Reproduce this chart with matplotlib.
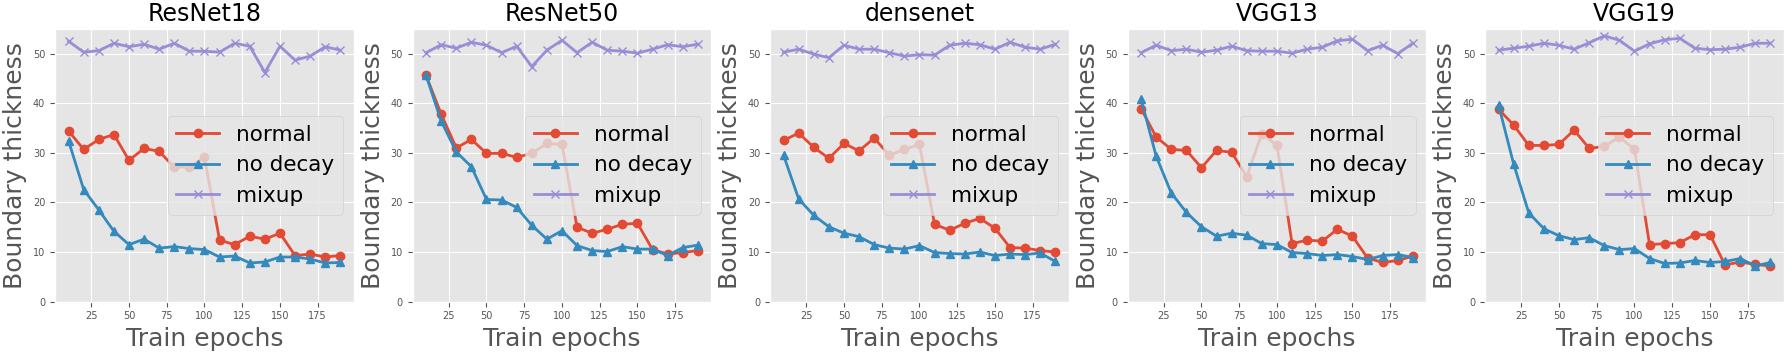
import numpy as np
import matplotlib
matplotlib.use('Agg')
import matplotlib.pyplot as plt

plt.style.use('ggplot')

epochs = np.arange(10, 200, 10)
titles = ['ResNet18', 'ResNet50', 'densenet', 'VGG13', 'VGG19']

# boundary thickness per model, one list per run type
normal = [
    [34.4, 30.7, 32.7, 33.7, 28.5, 30.9, 30.3, 27.1, 27.2, 29.1, 12.4, 11.5, 13.2, 12.6, 13.8, 9.3, 9.6, 9.0, 9.3],
    [45.6, 37.8, 31.0, 32.7, 29.9, 29.9, 29.1, 29.9, 31.9, 31.7, 15.0, 13.8, 14.6, 15.6, 15.8, 10.5, 9.6, 9.9, 10.3],
    [32.5, 34.0, 31.1, 28.9, 31.9, 30.4, 33.0, 29.5, 30.7, 31.7, 15.6, 14.4, 15.8, 16.8, 14.8, 10.9, 10.8, 10.3, 10.0],
    [38.9, 33.2, 30.7, 30.5, 27.0, 30.5, 30.1, 25.2, 33.9, 31.5, 11.7, 12.4, 12.2, 14.6, 13.2, 8.8, 7.9, 8.3, 9.2],
    [38.8, 35.6, 31.5, 31.5, 31.7, 34.6, 30.9, 31.3, 33.2, 30.7, 11.5, 11.7, 11.9, 13.5, 13.5, 7.4, 8.0, 7.5, 7.2],
]
no_decay = [
    [32.4, 22.6, 18.5, 14.2, 11.5, 12.6, 10.8, 11.1, 10.7, 10.5, 9.0, 9.2, 7.8, 8.0, 9.0, 9.0, 8.6, 7.8, 7.9],
    [45.6, 36.4, 30.2, 27.2, 20.6, 20.5, 19.0, 15.4, 12.6, 14.3, 11.3, 10.3, 10.1, 11.1, 10.6, 10.6, 9.3, 10.9, 11.4],
    [29.5, 20.7, 17.4, 15.1, 13.8, 13.1, 11.5, 10.8, 10.6, 11.3, 9.9, 9.7, 9.6, 10.0, 9.3, 9.6, 9.5, 9.8, 8.1],
    [40.8, 29.3, 21.9, 18.0, 15.1, 13.2, 13.8, 13.4, 11.7, 11.5, 9.9, 9.7, 9.3, 9.5, 9.1, 8.5, 9.3, 9.5, 8.9],
    [39.6, 27.7, 17.9, 14.7, 13.3, 12.5, 12.9, 11.3, 10.5, 10.7, 8.7, 7.7, 7.8, 8.3, 7.9, 8.1, 8.7, 7.2, 7.9],
]
mixup = [
    [52.5, 50.3, 50.6, 52.1, 51.4, 51.9, 50.9, 52.1, 50.5, 50.5, 50.3, 52.1, 51.5, 46.2, 51.5, 48.7, 49.5, 51.4, 50.7],
    [50.2, 51.8, 51.1, 52.3, 51.7, 50.2, 51.5, 47.4, 50.7, 52.7, 50.2, 52.3, 50.7, 50.5, 50.1, 50.9, 51.8, 51.4, 51.9],
    [50.3, 50.9, 49.9, 49.2, 51.7, 50.9, 50.9, 50.2, 49.5, 49.8, 49.7, 51.7, 52.1, 51.8, 50.9, 52.3, 51.3, 50.9, 51.9],
    [50.2, 51.7, 50.6, 50.9, 50.3, 50.7, 51.5, 50.6, 50.5, 50.5, 50.1, 50.9, 51.3, 52.6, 52.9, 50.6, 51.7, 50.0, 52.1],
    [50.7, 51.1, 51.5, 52.1, 51.7, 50.9, 52.2, 53.6, 52.7, 50.5, 52.0, 52.8, 53.1, 51.1, 50.8, 50.9, 51.3, 52.1, 52.1],
]

fig, axes = plt.subplots(1, 5, figsize=(17.92, 3.52), dpi=100)
fig.subplots_adjust(left=0.0307, right=0.9955, top=0.918, bottom=0.143, wspace=0.196)

for i, ax in enumerate(axes):
    ax.plot(epochs, normal[i], marker='o', lw=2, ms=6, label='normal')
    ax.plot(epochs, no_decay[i], marker='^', lw=2, ms=6, label='no decay')
    ax.plot(epochs, mixup[i], marker='x', lw=2, ms=6, label='mixup')
    ax.set_ylim(0, 55)
    ax.set_title(titles[i], fontsize=17)
    ax.set_xlabel('Train epochs', fontsize=18)
    ax.set_ylabel('Boundary thickness', fontsize=18)
    ax.tick_params(labelsize=7)
    ax.legend(loc='center right', fontsize=15.5)

plt.savefig('out.png')
